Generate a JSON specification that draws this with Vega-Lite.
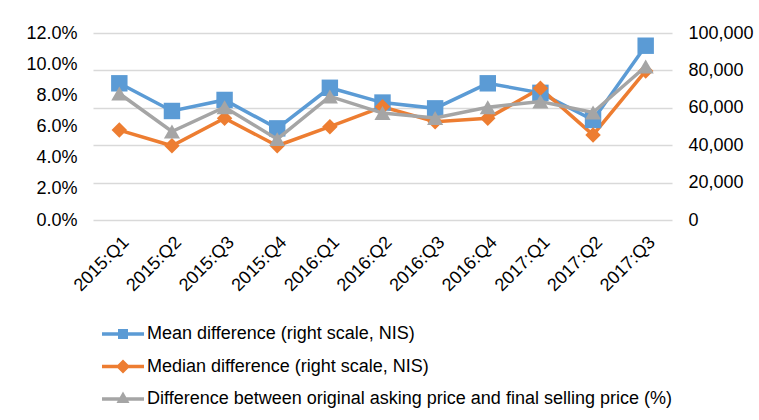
{
  "$schema": "https://vega.github.io/schema/vega-lite/v6.json",
  "autosize": "none",
  "width": 579,
  "height": 187,
  "padding": {"left": 93, "top": 33, "right": 87, "bottom": 200},
  "background": "white",
  "config": {
    "font": "Liberation Sans",
    "view": {"stroke": null},
    "axis": {"labelFont": "Liberation Sans", "labelFontSize": 18, "labelColor": "#000000", "domain": false, "ticks": false, "title": null}
  },
  "data": {
    "values": [
      {"q": "2015:Q1", "series": "Mean difference (right scale, NIS)", "value": 73100},
      {"q": "2015:Q2", "series": "Mean difference (right scale, NIS)", "value": 58300},
      {"q": "2015:Q3", "series": "Mean difference (right scale, NIS)", "value": 64200},
      {"q": "2015:Q4", "series": "Mean difference (right scale, NIS)", "value": 49000},
      {"q": "2016:Q1", "series": "Mean difference (right scale, NIS)", "value": 70700},
      {"q": "2016:Q2", "series": "Mean difference (right scale, NIS)", "value": 62800},
      {"q": "2016:Q3", "series": "Mean difference (right scale, NIS)", "value": 59700},
      {"q": "2016:Q4", "series": "Mean difference (right scale, NIS)", "value": 73100},
      {"q": "2017:Q1", "series": "Mean difference (right scale, NIS)", "value": 68000},
      {"q": "2017:Q2", "series": "Mean difference (right scale, NIS)", "value": 53500},
      {"q": "2017:Q3", "series": "Mean difference (right scale, NIS)", "value": 93200},
      {"q": "2015:Q1", "series": "Median difference (right scale, NIS)", "value": 48100},
      {"q": "2015:Q2", "series": "Median difference (right scale, NIS)", "value": 39700},
      {"q": "2015:Q3", "series": "Median difference (right scale, NIS)", "value": 54400},
      {"q": "2015:Q4", "series": "Median difference (right scale, NIS)", "value": 39700},
      {"q": "2016:Q1", "series": "Median difference (right scale, NIS)", "value": 49900},
      {"q": "2016:Q2", "series": "Median difference (right scale, NIS)", "value": 60500},
      {"q": "2016:Q3", "series": "Median difference (right scale, NIS)", "value": 52600},
      {"q": "2016:Q4", "series": "Median difference (right scale, NIS)", "value": 54400},
      {"q": "2017:Q1", "series": "Median difference (right scale, NIS)", "value": 70400},
      {"q": "2017:Q2", "series": "Median difference (right scale, NIS)", "value": 45500},
      {"q": "2017:Q3", "series": "Median difference (right scale, NIS)", "value": 79700},
      {"q": "2015:Q1", "series": "Difference between original asking price and final selling price (%)", "value": 0.0812},
      {"q": "2015:Q2", "series": "Difference between original asking price and final selling price (%)", "value": 0.0568},
      {"q": "2015:Q3", "series": "Difference between original asking price and final selling price (%)", "value": 0.0724},
      {"q": "2015:Q4", "series": "Difference between original asking price and final selling price (%)", "value": 0.0519},
      {"q": "2016:Q1", "series": "Difference between original asking price and final selling price (%)", "value": 0.0793},
      {"q": "2016:Q2", "series": "Difference between original asking price and final selling price (%)", "value": 0.0686},
      {"q": "2016:Q3", "series": "Difference between original asking price and final selling price (%)", "value": 0.0654},
      {"q": "2016:Q4", "series": "Difference between original asking price and final selling price (%)", "value": 0.0724},
      {"q": "2017:Q1", "series": "Difference between original asking price and final selling price (%)", "value": 0.0760},
      {"q": "2017:Q2", "series": "Difference between original asking price and final selling price (%)", "value": 0.0690},
      {"q": "2017:Q3", "series": "Difference between original asking price and final selling price (%)", "value": 0.0985}
    ]
  },
  "encoding": {
    "x": {
      "field": "q", "type": "ordinal",
      "scale": {"type": "point", "padding": 0.5},
      "axis": {"labelAngle": -45, "labelPadding": 13, "grid": false}
    },
    "color": {
      "field": "series", "type": "nominal",
      "scale": {
        "domain": ["Mean difference (right scale, NIS)", "Median difference (right scale, NIS)", "Difference between original asking price and final selling price (%)"],
        "range": ["#5B9BD5", "#ED7D31", "#A5A5A5"]
      },
      "legend": {
        "orient": "none",
        "legendX": 20,
        "legendY": 291,
        "direction": "vertical",
        "title": null,
        "labelFont": "Liberation Sans",
        "labelFontSize": 18,
        "labelColor": "#000000",
        "labelLimit": 700,
        "symbolSize": 400,
        "symbolStrokeWidth": 0,
        "symbolOpacity": 1,
        "labelOffset": 14,
        "rowPadding": 13.5
      }
    }
  },
  "layer": [
    {
      "transform": [{"filter": "datum.series !== 'Difference between original asking price and final selling price (%)'"}],
      "encoding": {
        "y": {
          "field": "value", "type": "quantitative",
          "scale": {"domain": [0, 100000], "nice": false},
          "axis": {"orient": "right", "values": [0, 20000, 40000, 60000, 80000, 100000], "format": ",.0f", "grid": true, "gridColor": "#d9d9d9", "gridWidth": 1.5, "labelPadding": 16}
        }
      },
      "layer": [
        {"mark": {"type": "line", "strokeWidth": 3.5}},
        {
          "transform": [{"filter": "datum.series === 'Mean difference (right scale, NIS)'"}],
          "mark": {"type": "point", "shape": "square", "filled": true, "opacity": 1, "size": 270}
        },
        {
          "transform": [{"filter": "datum.series === 'Median difference (right scale, NIS)'"}],
          "mark": {"type": "point", "shape": "diamond", "filled": true, "opacity": 1, "size": 240}
        }
      ]
    },
    {
      "transform": [{"filter": "datum.series === 'Difference between original asking price and final selling price (%)'"}],
      "encoding": {
        "y": {
          "field": "value", "type": "quantitative",
          "scale": {"domain": [0, 0.12], "nice": false},
          "axis": {"orient": "left", "values": [0, 0.02, 0.04, 0.06, 0.08, 0.1, 0.12], "format": ".1%", "grid": false, "labelPadding": 16}
        }
      },
      "layer": [
        {"mark": {"type": "line", "strokeWidth": 3.5}},
        {"mark": {"type": "point", "shape": "triangle-up", "filled": true, "opacity": 1, "size": 260}}
      ]
    },
    {
      "transform": [{"filter": "false"}],
      "mark": {"type": "point", "filled": true, "opacity": 1},
      "encoding": {
        "shape": {
          "field": "series", "type": "nominal",
          "scale": {
            "domain": ["Mean difference (right scale, NIS)", "Median difference (right scale, NIS)", "Difference between original asking price and final selling price (%)"],
            "range": [
              "M-2.1,-0.18H2.1V0.18H-2.1Z M-0.5,-0.5H0.5V0.5H-0.5Z",
              "M-2.1,-0.18H2.1V0.18H-2.1Z M0,-0.7L0.7,0L0,0.7L-0.7,0Z",
              "M-2.1,-0.18H2.1V0.18H-2.1Z M0,-0.75L0.65,0.4H-0.65Z"
            ]
          }
        }
      }
    }
  ],
  "resolve": {"scale": {"y": "independent"}}
}
